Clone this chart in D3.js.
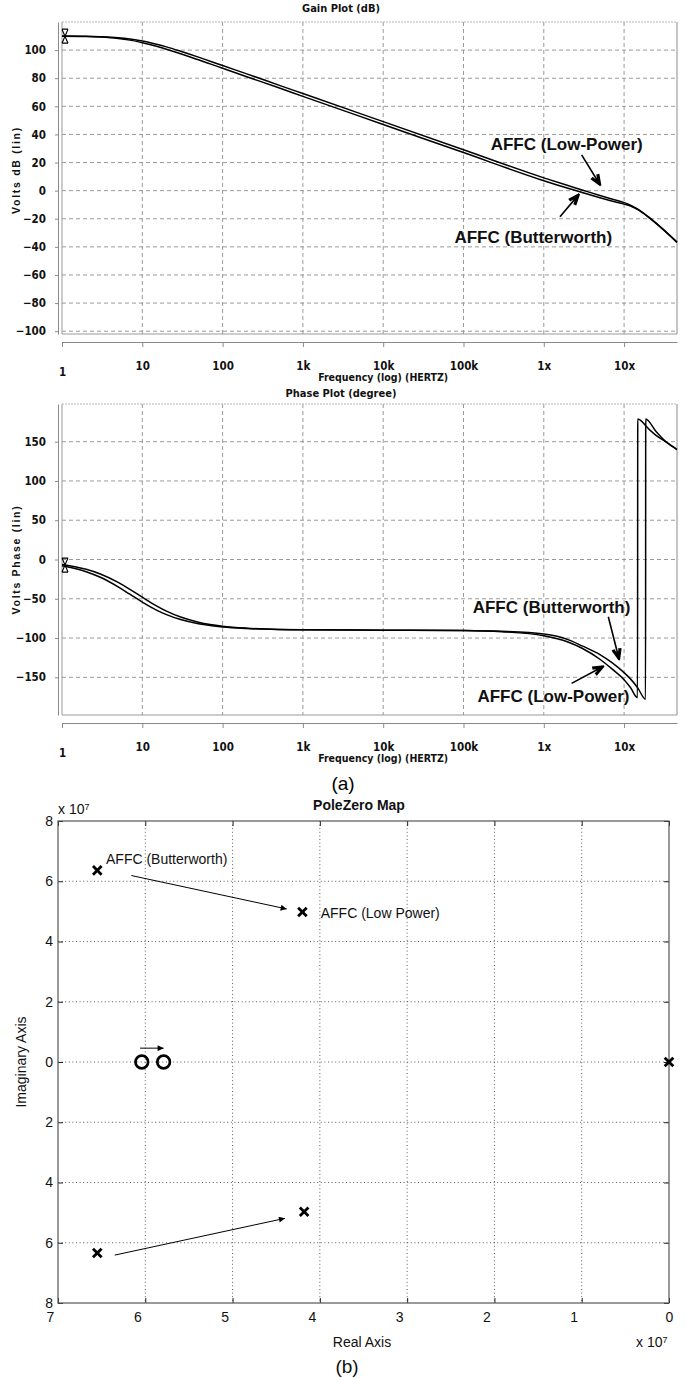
<!DOCTYPE html>
<html>
<head>
<meta charset="utf-8">
<script src="https://cdn.jsdelivr.net/npm/d3@7"></script>
<style>
  body { margin: 0; background: #fff; }
  svg { display: block; background: #fff; }
  .bode text { font-family: 'Liberation Sans Narrow', 'Arial Narrow', 'DejaVu Sans Condensed', sans-serif; font-weight: bold; fill: #111; }
  .bode .nota { font-family: 'Liberation Sans', Arial, sans-serif; font-size: 17px; }
  .pz text { font-family: 'Liberation Sans', Arial, Helvetica, sans-serif; fill: #111; }
  .grid { stroke: #9a9a9a; stroke-dasharray: 4,3; stroke-width: 1; }
  .pzgrid { stroke: #333; stroke-dasharray: 1,2.6; stroke-width: 0.8; }
</style>
</head>
<body>
<div id="graf"></div>
<script>
// I. Datos

// Bode: frecuencias en Hz
const gainFreq = [1, 2, 3, 5, 7, 10, 15, 20, 30, 50, 70, 100, 200, 500, 1e3, 1e4, 1e5, 1e6, 2e6, 3e6, 5e6, 7e6, 1e7, 1.2e7, 1.5e7, 2e7, 3e7, 4.56e7]
const gainLowPower = [109.95, 109.8, 109.5, 108.8, 107.9, 106.5, 104.2, 102.3, 99.2, 95.0, 92.1, 89.0, 83.1, 75.1, 69.1, 49.1, 29.1, 9.1, 3.6, 0.5, -3.5, -6.0, -8.5, -10.3, -13.3, -18.5, -27, -36.6]
const gainButterworth = [109.9, 109.7, 109.3, 108.3, 107.1, 105.3, 102.7, 100.6, 97.4, 93.1, 90.2, 87.1, 81.1, 73.2, 67.1, 47.1, 27.1, 7.1, 1.7, -1.3, -5.0, -7.3, -9.6, -11.0, -13.7, -18.8, -27.2, -36.8]

const phaseFreq = [1, 2, 3, 5, 7, 10, 15, 20, 30, 50, 70, 100, 200, 500, 1e3, 1e4, 1e5, 3e5, 1e6, 2e6, 3e6, 5e6, 7e6, 1e7, 1.2e7, 1.47e7, 1.48e7, 1.85e7, 1.86e7, 2.5e7, 3.4e7, 4.56e7]
const phaseLowPower = [-6.3, -12.5, -18.4, -29.1, -37.9, -48.0, -59.0, -65.8, -73.3, -79.8, -82.7, -84.9, -87.4, -89.0, -89.5, -90.0, -90.5, -92, -97, -105, -113, -127, -139, -153, -163, -176, 179, 170.5, 170.2, 158, 149, 140]
const phaseButterworth = [-7.9, -15.5, -22.6, -34.8, -44.2, -54.2, -64.4, -70.2, -76.5, -81.8, -84.1, -85.9, -87.9, -89.2, -89.6, -90.0, -90.5, -91.5, -95, -102, -110, -121, -131, -144, -152, -163, -163.4, -178, 179, 163, 149, 140]

const freqTicks = [1, 10, 100, 1e3, 1e4, 1e5, 1e6, 1e7]
const freqTickLabels = ['1', '10', '100', '1k', '10k', '100k', '1x', '10x']
const gainTicks = [100, 80, 60, 40, 20, 0, -20, -40, -60, -80, -100]
const phaseTicks = [150, 100, 50, 0, -50, -100, -150]

const gainNotes = [
  { text: 'AFFC (Low-Power)', f: 1.93e6, v: 33.2, from: [2.96e6, 25.4], to: [5.1e6, 3.5] },
  { text: 'AFFC (Butterworth)', f: 7.4e5, v: -33, from: [1.59e6, -18.5], to: [2.77e6, -2.3] }
]
const phaseNotes = [
  { text: 'AFFC (Butterworth)', f: 1.25e6, v: -60, from: [6.36e6, -72.9], to: [8.71e6, -128] },
  { text: 'AFFC (Low-Power)', f: 1.32e6, v: -174, from: [2.22e6, -157.7], to: [5.62e6, -135.7] }
]

// Mapa de polos y ceros
const poleRe = [-6.55e7, -6.55e7, -4.2e7, -4.18e7, 0]
const poleIm = [6.36e7, -6.34e7, 4.98e7, -4.97e7, 0]
const zeroRe = [-6.04e7, -5.79e7]
const zeroIm = [0, 0]
const pzXTicks = [-7e7, -6e7, -5e7, -4e7, -3e7, -2e7, -1e7, 0]
const pzXTickLabels = ['7', '6', '5', '4', '3', '2', '1', '0']
const pzYTicks = [-8e7, -6e7, -4e7, -2e7, 0, 2e7, 4e7, 6e7, 8e7]
const pzYTickLabels = ['8', '6', '4', '2', '0', '2', '4', '6', '8']
const pzArrows = [
  { from: [-6.16e7, 6.19e7], to: [-4.38e7, 5.08e7] },
  { from: [-6.35e7, -6.41e7], to: [-4.40e7, -5.19e7] },
  { from: [-6.06e7, 0.46e7], to: [-5.79e7, 0.46e7] }
]
const pzNotes = [
  { text: 'AFFC (Butterworth)', re: -6.45e7, im: 6.74e7 },
  { text: 'AFFC (Low Power)', re: -3.99e7, im: 4.95e7 }
]

// II. Configuración
const W = 686, H = 1378
const bodeLeft = 62, bodeRight = 677

svg = d3.select('#graf').append('svg')
        .attr('width', W)
        .attr('height', H)

defs = svg.append('defs')
defs.append('marker')
    .attr('id', 'punta')
    .attr('viewBox', '0 0 10 10')
    .attr('refX', 10).attr('refY', 5)
    .attr('markerWidth', 9).attr('markerHeight', 6)
    .attr('markerUnits', 'userSpaceOnUse')
    .attr('orient', 'auto')
  .append('path')
    .attr('d', 'M0,0 L10,5 L0,10 Z')
    .attr('fill', '#000')

x = d3.scaleLog()
      .domain([1, 4.56e7])
      .range([bodeLeft, bodeRight])

function bode(cfg) {
  const g = svg.append('g').attr('class', 'bode')
  const y = d3.scaleLinear().domain(cfg.domain).range([cfg.bottom, cfg.top])

  g.append('text')
    .attr('x', 341).attr('y', cfg.top - cfg.titleGap)
    .attr('text-anchor', 'middle').attr('dy', '0.35em')
    .style('font-size', '11px')
    .text(cfg.title)

  // rejilla
  g.append('g').selectAll('line')
    .data(cfg.ticks)
    .join('line')
      .attr('class', 'grid')
      .attr('x1', bodeLeft).attr('x2', bodeRight)
      .attr('y1', d => y(d)).attr('y2', d => y(d))
  g.append('g').selectAll('line')
    .data(freqTicks.slice(1))
    .join('line')
      .attr('class', 'grid')
      .attr('x1', d => x(d)).attr('x2', d => x(d))
      .attr('y1', cfg.top).attr('y2', cfg.bottom)

  // marco
  g.append('line').attr('x1', bodeLeft).attr('x2', bodeRight).attr('y1', cfg.top).attr('y2', cfg.top)
    .attr('stroke', '#b5b5b5').attr('stroke-dasharray', '2,1')
  g.append('line').attr('x1', bodeLeft).attr('x2', bodeRight).attr('y1', cfg.bottom).attr('y2', cfg.bottom)
    .attr('stroke', '#9a9a9a')
  g.append('line').attr('x1', bodeLeft).attr('x2', bodeLeft).attr('y1', cfg.top).attr('y2', cfg.bottom)
    .attr('stroke', '#9a9a9a')
  g.append('line').attr('x1', bodeRight).attr('x2', bodeRight).attr('y1', cfg.top).attr('y2', cfg.bottom)
    .attr('stroke', '#8a8a8a')

  // regla vertical
  const yRuler = g.append('g').attr('transform', `translate(${bodeLeft - 4},0)`)
  yRuler.call(d3.axisLeft(y).tickValues(cfg.minor).tickSize(2).tickSizeOuter(0).tickFormat(''))
  yRuler.call(d3.axisLeft(y).tickValues(cfg.ticks).tickSize(3).tickSizeOuter(0).tickPadding(9))
  yRuler.selectAll('path, line').attr('stroke', '#8a8a8a')
  yRuler.selectAll('text').style('font-size', '11.5px').attr('fill', '#111')

  g.append('text')
    .attr('transform', `translate(16, ${(cfg.top + cfg.bottom) / 2 + cfg.labelShift}) rotate(-90)`)
    .attr('text-anchor', 'middle').attr('dy', '0.35em')
    .style('font-family', "'Liberation Sans', Arial, sans-serif")
    .style('font-size', '10.5px').style('letter-spacing', '1.7px')
    .text(cfg.ylabel)

  // regla horizontal
  const xRuler = g.append('g').attr('transform', `translate(0, ${cfg.bottom + 8})`)
  xRuler.call(d3.axisBottom(x).tickValues(x.ticks().filter(d => !freqTicks.includes(d))).tickSize(3).tickSizeOuter(0).tickFormat(''))
  xRuler.call(d3.axisBottom(x).tickValues(freqTicks).tickSize(5).tickSizeOuter(0).tickPadding(11)
                .tickFormat((d, i) => freqTickLabels[i]))
  xRuler.selectAll('path, line').attr('stroke', '#8a8a8a')
  xRuler.selectAll('text').style('font-size', '11.5px').attr('fill', '#111')
        .attr('y', (d, i) => i === 0 ? 26 : 20)

  g.append('text')
    .attr('x', x(1e4)).attr('y', cfg.bottom + 43)
    .attr('text-anchor', 'middle').attr('dy', '0.35em')
    .style('font-size', '10.5px')
    .text('Frequency (log) (HERTZ)')

  // curvas
  const linea = d3.line()
                  .x(d => x(d[0]))
                  .y(d => y(d[1]))
                  .curve(d3.curveMonotoneX)
  cfg.series.forEach(s => {
    const datos = d3.zip(cfg.freq, s)
    g.append('path')
      .attr('d', linea(datos))
      .attr('fill', 'none')
      .attr('stroke', '#000')
      .attr('stroke-width', 1.5)
      .attr('stroke-linejoin', 'round')
  })

  // marcador de inicio
  g.append('path')
    .attr('transform', `translate(${x(cfg.freq[0]) + 3}, ${y(d3.mean(cfg.series, s => s[0]))})`)
    .attr('d', 'M-3,-7 L3,7 M3,-7 L-3,7 M-3,-7 L3,-7 M-3,7 L3,7')
    .attr('fill', 'none').attr('stroke', '#000').attr('stroke-width', 1.1)

  // anotaciones
  cfg.notes.forEach(n => {
    g.append('text')
      .attr('class', 'nota')
      .attr('x', x(n.f)).attr('y', y(n.v))
      .attr('text-anchor', 'middle').attr('dy', '0.35em')
      .text(n.text)
    const x1 = x(n.from[0]), y1 = y(n.from[1])
    const x2 = x(n.to[0]), y2 = y(n.to[1])
    const ang = Math.atan2(y2 - y1, x2 - x1)
    const head = [ang + Math.PI - 0.38, ang + Math.PI + 0.38]
      .map(a => `M${x2 + 12 * Math.cos(a)},${y2 + 12 * Math.sin(a)} L${x2},${y2}`).join(' ')
    const head2 = [ang + Math.PI - 0.32, ang + Math.PI + 0.32]
      .map(a => `M${x2 - 3 * Math.cos(ang) + 9 * Math.cos(a)},${y2 - 3 * Math.sin(ang) + 9 * Math.sin(a)} L${x2 - 3 * Math.cos(ang)},${y2 - 3 * Math.sin(ang)}`).join(' ')
    g.append('path')
      .attr('d', `M${x1},${y1} L${x2},${y2} ${head} ${head2}`)
      .attr('fill', 'none').attr('stroke', '#000').attr('stroke-width', 1.6)
  })
}

// III. Diagramas de Bode
bode({
  title: 'Gain Plot (dB)', ylabel: 'Volts dB (lin)', titleGap: 14, labelShift: -8,
  domain: [-102, 120], top: 22, bottom: 334,
  ticks: gainTicks, minor: d3.range(-100, 121, 10),
  freq: gainFreq, series: [gainLowPower, gainButterworth],
  notes: gainNotes
})
bode({
  title: 'Phase Plot (degree)', ylabel: 'Volts Phase (lin)', titleGap: 11, labelShift: 0,
  domain: [-198, 198], top: 404, bottom: 715,
  ticks: phaseTicks, minor: d3.range(-190, 191, 10),
  freq: phaseFreq, series: [phaseLowPower, phaseButterworth],
  notes: phaseNotes
})

svg.append('text')
   .attr('x', 343).attr('y', 783).attr('dy', '0.35em')
   .attr('text-anchor', 'middle')
   .style('font-family', "'Liberation Sans', Arial, sans-serif")
   .style('font-size', '19px')
   .text('(a)')

// IV. Mapa de polos y ceros
pz = svg.append('g').attr('class', 'pz')

xPZ = d3.scaleLinear().domain([-7e7, 0]).range([58, 669])
yPZ = d3.scaleLinear().domain([-8e7, 8e7]).range([1303, 821])

pz.append('g').selectAll('line')
  .data(pzXTicks.slice(1, -1))
  .join('line')
    .attr('class', 'pzgrid')
    .attr('x1', d => xPZ(d)).attr('x2', d => xPZ(d))
    .attr('y1', yPZ(8e7)).attr('y2', yPZ(-8e7))
pz.append('g').selectAll('line')
  .data(pzYTicks.slice(1, -1))
  .join('line')
    .attr('class', 'pzgrid')
    .attr('x1', xPZ(-7e7)).attr('x2', xPZ(0))
    .attr('y1', d => yPZ(d)).attr('y2', d => yPZ(d))

xAxisPZ = pz.append('g').attr('transform', `translate(0, ${yPZ(-8e7)})`)
            .call(d3.axisBottom(xPZ).tickValues(pzXTicks).tickSize(-5).tickSizeOuter(0).tickPadding(9)
                    .tickFormat((d, i) => pzXTickLabels[i]))
xAxisPZ.selectAll('text').attr('dx', d => d === 0 ? 0 : -8)
pz.append('g').attr('transform', `translate(0, ${yPZ(8e7)})`)
  .call(d3.axisTop(xPZ).tickValues(pzXTicks).tickSize(-5).tickSizeOuter(0).tickFormat(''))
pz.append('g').attr('transform', `translate(${xPZ(-7e7)}, 0)`)
  .call(d3.axisLeft(yPZ).tickValues(pzYTicks).tickSize(-5).tickSizeOuter(0).tickPadding(5)
          .tickFormat((d, i) => pzYTickLabels[i]))
pz.append('g').attr('transform', `translate(${xPZ(0)}, 0)`)
  .call(d3.axisRight(yPZ).tickValues(pzYTicks).tickSize(-5).tickSizeOuter(0).tickFormat(''))
pz.selectAll('.domain').remove()
pz.selectAll('.tick line').attr('stroke', '#222')
pz.selectAll('.tick text').style('font-size', '14px').attr('fill', '#111')

pz.append('rect')
  .attr('x', xPZ(-7e7)).attr('y', yPZ(8e7))
  .attr('width', xPZ(0) - xPZ(-7e7)).attr('height', yPZ(-8e7) - yPZ(8e7))
  .attr('fill', 'none').attr('stroke', '#555').attr('stroke-width', 1.2)

// polos
pz.append('g').selectAll('path')
  .data(d3.zip(poleRe, poleIm))
  .join('path')
    .attr('transform', d => `translate(${xPZ(d[0])}, ${yPZ(d[1])})`)
    .attr('d', 'M-4.3,-4.3 L4.3,4.3 M4.3,-4.3 L-4.3,4.3')
    .attr('stroke', '#000').attr('stroke-width', 2.8)

// ceros
pz.append('g').selectAll('circle')
  .data(d3.zip(zeroRe, zeroIm))
  .join('circle')
    .attr('cx', d => xPZ(d[0])).attr('cy', d => yPZ(d[1]))
    .attr('r', 6.3)
    .attr('fill', 'none').attr('stroke', '#000').attr('stroke-width', 2.7)

pz.append('g').selectAll('line')
  .data(pzArrows)
  .join('line')
    .attr('x1', d => xPZ(d.from[0])).attr('y1', d => yPZ(d.from[1]))
    .attr('x2', d => xPZ(d.to[0])).attr('y2', d => yPZ(d.to[1]))
    .attr('stroke', '#000').attr('stroke-width', 1)
    .attr('marker-end', 'url(#punta)')

pz.append('g').selectAll('text')
  .data(pzNotes)
  .join('text')
    .attr('x', d => xPZ(d.re)).attr('y', d => yPZ(d.im))
    .attr('dy', '0.35em')
    .style('font-size', '14px')
    .text(d => d.text)

pz.append('text')
  .attr('x', 359).attr('y', 805).attr('dy', '0.35em')
  .attr('text-anchor', 'middle')
  .style('font-size', '14px').style('font-weight', 'bold')
  .text('PoleZero Map')

function x10(px, py) {
  const t = pz.append('text').attr('x', px).attr('y', py).attr('dy', '0.35em').style('font-size', '14px')
  t.append('tspan').text('x 10')
  t.append('tspan').attr('dy', '-0.45em').style('font-size', '9px').text('7')
}
x10(58, 809)
x10(636, 1342)

pz.append('text')
  .attr('x', 362).attr('y', 1342).attr('dy', '0.35em')
  .attr('text-anchor', 'middle').style('font-size', '14px')
  .text('Real Axis')

pz.append('text')
  .attr('transform', `translate(21, ${yPZ(0)}) rotate(-90)`)
  .attr('text-anchor', 'middle').attr('dy', '0.35em')
  .style('font-size', '14px')
  .text('Imaginary Axis')

pz.append('text')
  .attr('x', 347).attr('y', 1366).attr('dy', '0.35em')
  .attr('text-anchor', 'middle').style('font-size', '19px')
  .text('(b)')
</script>
</body>
</html>
